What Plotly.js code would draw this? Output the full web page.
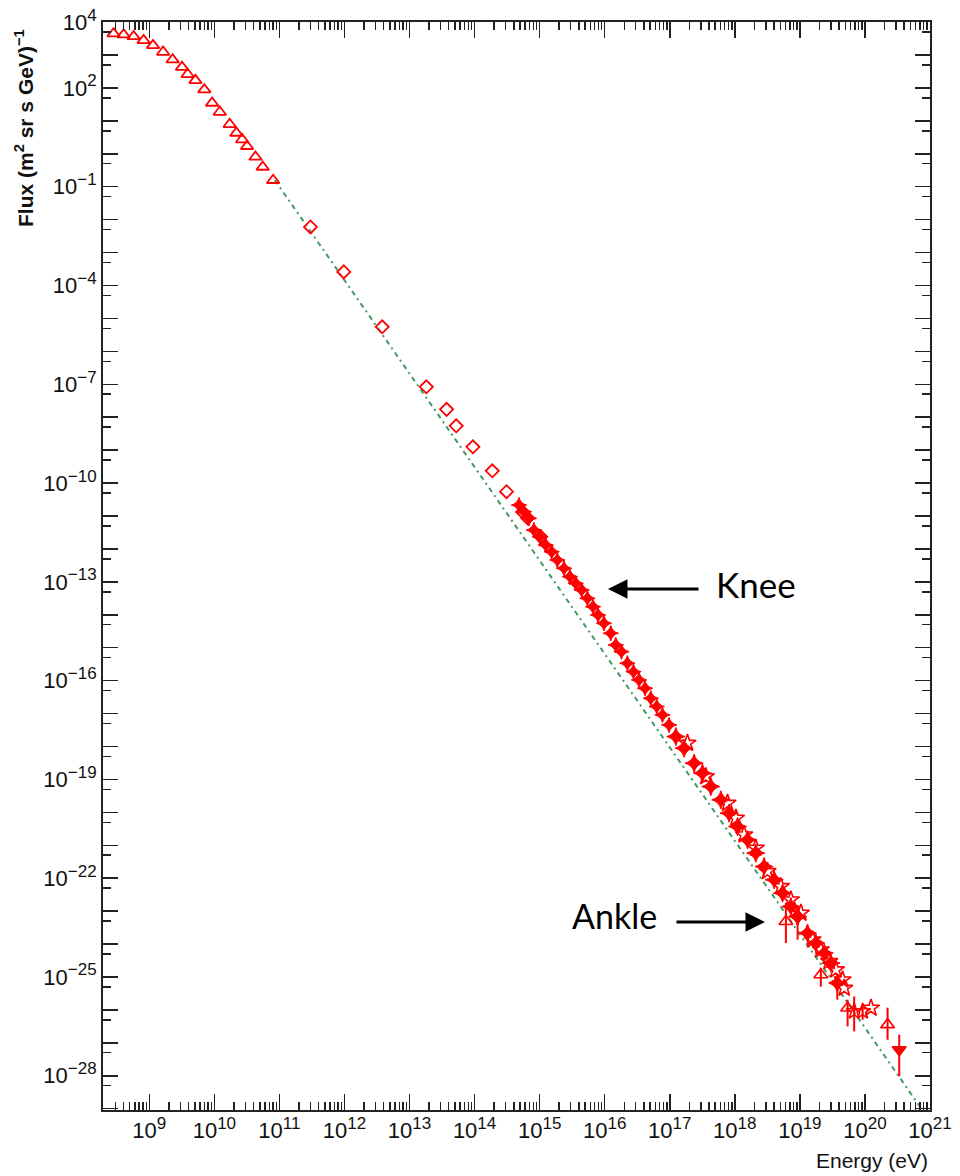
<!DOCTYPE html>
<html>
<head>
<meta charset="utf-8">
<script src="https://cdn.plot.ly/plotly-3.0.1.min.js"></script>
<style>html,body{margin:0;padding:0;background:#fff;}#chart{width:960px;height:1176px;}</style>
</head>
<body>
<div id="chart"></div>
<script>
// ---- Data ----
// Low-energy direct measurements (open triangles)
const triE = [2.82e8, 4.03e8, 5.73e8, 8.17e8, 1.14e9, 1.63e9, 2.28e9, 3.18e9, 3.88e9, 5.11e9,
              7.01e9, 9.23e9, 1.21e10, 1.72e10, 2.18e10, 2.67e10, 3.18e10, 4.28e10, 5.53e10, 8.00e10];
const triF = [4.45e3, 4.15e3, 3.68e3, 2.78e3, 1.96e3, 1.23e3, 7.23e2, 4.28e2, 2.59e2, 1.70e2,
              88.7, 34.8, 18.5, 7.85, 4.28, 2.70, 1.69, 0.80, 0.397, 0.157];
// Open diamonds
const diaE = [3.00e11, 9.75e11, 3.80e12, 1.81e13, 3.71e13, 5.22e13, 9.42e13, 1.87e14, 3.10e14, 5.47e14, 6.53e14, 1.04e15];
const diaF = [6.0e-3, 2.59e-4, 5.55e-6, 8.38e-8, 1.73e-8, 5.48e-9, 1.26e-9, 2.36e-10, 5.45e-11, 1.32e-11, 8.7e-12, 2.34e-12];
// Filled stars (air shower data)
const starE = [4.81e14, 5.73e14, 6.84e14, 8.17e14, 1.01e15, 1.24e15, 1.53e15, 1.87e15, 2.37e15, 2.92e15,
               3.58e15, 4.43e15, 5.42e15, 6.61e15, 7.89e15, 9.75e15, 1.24e16, 1.48e16, 1.81e16, 2.23e16,
               2.77e16, 3.37e16, 4.17e16, 5.11e16, 6.31e16, 7.73e16, 9.75e16, 1.24e17, 1.66e17, 2.37e17,
               3.18e17, 4.28e17, 6.10e17, 8.17e17, 1.10e18, 1.57e18, 2.10e18, 2.82e18, 4.03e18, 5.42e18,
               7.28e18, 9.23e18, 1.31e19, 1.76e19, 2.37e19, 3.00e19];
const starF = [2.15e-11, 1.35e-11, 8.49e-12, 3.74e-12, 2.34e-12, 1.31e-12, 8.22e-13, 4.60e-13, 2.58e-13, 1.43e-13,
               9.03e-14, 5.66e-14, 3.17e-14, 1.76e-14, 9.86e-15, 5.52e-15, 2.75e-15, 1.21e-15, 7.59e-16, 3.37e-16,
               1.87e-16, 1.05e-16, 5.87e-17, 2.92e-17, 1.63e-17, 9.10e-18, 4.52e-18, 2.00e-18, 8.87e-19, 3.11e-19,
               1.55e-19, 6.07e-20, 2.39e-20, 9.46e-21, 3.71e-21, 1.46e-21, 5.78e-22, 2.26e-22, 8.93e-23, 3.53e-23,
               1.38e-23, 6.87e-24, 2.16e-24, 1.07e-24, 5.33e-25, 2.65e-25];
// Open stars
const ostarE = [1.87e17, 3.58e17, 7.73e17, 1.04e18, 1.39e18, 2.10e18, 3.18e18, 5.11e18, 7.28e18, 1.04e19,
                1.57e19, 2.10e19, 2.82e19, 3.58e19, 4.54e19, 4.81e19, 1.24e20];
const ostarF = [1.26e-18, 1.22e-19, 1.90e-20, 6.67e-21, 2.07e-21, 8.20e-22, 1.60e-22, 5.60e-23, 2.21e-23, 8.73e-24,
                1.35e-24, 6.71e-25, 2.96e-25, 1.66e-25, 8.24e-26, 4.61e-26, 1.14e-26];
// Highest-energy points with error bars
const ankE   = [6.10e18, 9.23e18, 2.10e19, 3.76e19, 5.42e19, 6.84e19, 9.23e19, 2.23e20, 3.37e20];
const ankF   = [4.85e-24, 6.87e-24, 1.17e-25, 6.55e-26, 1.14e-26, 9.0e-27, 9.0e-27, 3.56e-27, 6.19e-28];
const ankHi  = [1.79e-23, 1.38e-23, 1.91e-25, 1.04e-25, 2.04e-26, 2.57e-26, 1.28e-26, 1.17e-26, 1.77e-27];
const ankLo  = [1.07e-24, 1.35e-24, 5.06e-26, 2.04e-26, 3.15e-27, 2.22e-27, 5.04e-27, 1.24e-27, 9.6e-29];
const ankSym = ['triangle-up-open', 'star-diamond', 'triangle-up-open', 'star-diamond', 'triangle-up-open',
                'star-open', 'star-open', 'triangle-up-open', 'triangle-down'];
// Dash-dot reference power law (end points)
const fitE = [8.5e10, 1e21];
const fitF = [1.58e-1, 4.2e-30];
// Axis ticks
const xTickExp = [9, 10, 11, 12, 13, 14, 15, 16, 17, 18, 19, 20, 21];
const yLabelExp = [4, 2, -1, -4, -7, -10, -13, -16, -19, -22, -25, -28];

// ---- Build ----
const RED = '#ff0000';
const fmtExp = e => '10<sup><span style="font-size:17px">' + String(e).replace('-', '\u2212') + '</span></sup>';

const yPlainDec = [], yMinorVals = [];
for (let k = -29; k <= 4; k++) if (yLabelExp.indexOf(k) < 0) yPlainDec.push(Math.pow(10, k));
for (let k = -30; k <= 3; k++) yMinorVals.push(5 * Math.pow(10, k));

// denser band above 1e17 eV is drawn with slightly larger marks
const starSizes = starE.map(e => (e > 1e17 ? 13 : 11));

const traces = [
  { x: fitE, y: fitF, mode: 'lines', line: { color: '#3f9a5f', width: 2, dash: '5px,4px,2px,4px' }, hoverinfo: 'skip' },
  { x: triE, y: triF, mode: 'markers', marker: { symbol: 'triangle-up-open', size: 11, opacity: 1, color: RED, line: { width: 1.8, color: RED } } },
  { x: diaE, y: diaF, mode: 'markers', marker: { symbol: 'diamond-open', size: 10, opacity: 1, color: RED, line: { width: 1.8, color: RED } } },
  { x: starE, y: starF, mode: 'markers', marker: { symbol: 'star-diamond', size: starSizes, opacity: 1, color: RED, line: { width: 1, color: RED } } },
  { x: ostarE, y: ostarF, mode: 'markers', marker: { symbol: 'star-open', size: 13, opacity: 1, color: RED, line: { width: 1.6, color: RED } } },
  { x: ankE, y: ankF, mode: 'markers',
    marker: { symbol: ankSym, size: 12, opacity: 1, color: RED, line: { width: 1.6, color: RED } },
    error_y: { type: 'data', symmetric: false,
               array: ankHi.map((v, i) => v - ankF[i]),
               arrayminus: ankLo.map((v, i) => ankF[i] - v),
               color: RED, thickness: 2, width: 0 } }
];

const TF = { family: 'Liberation Sans, Arial, sans-serif', size: 22, color: '#111' };
const axisCommon = {
  type: 'log', showgrid: false, zeroline: false, showline: true, linecolor: '#222', linewidth: 2,
  mirror: 'ticks', ticks: 'inside', tickcolor: '#222', tickwidth: 1.5, tickfont: TF
};
const YR = [-29.04, 4.002];

const L = 103, R = 930, T = 22, B = 1110;
const px = v => (v - L) / (R - L);
const py = v => (B - v) / (B - T);

const layout = {
  width: 960, height: 1176,
  margin: { l: L, r: 960 - R, t: T, b: 1176 - B },
  paper_bgcolor: '#fff', plot_bgcolor: '#fff', showlegend: false,
  xaxis: Object.assign({}, axisCommon, {
    range: [8.288, 21.0005], tickmode: 'array',
    tickvals: xTickExp.map(e => Math.pow(10, e)), ticktext: xTickExp.map(fmtExp),
    ticklen: 16,
    minor: { ticks: 'inside', ticklen: 8, dtick: 'D1', tickcolor: '#222', tickwidth: 1.5 }
  }),
  yaxis: Object.assign({}, axisCommon, {
    range: YR, tickmode: 'array',
    tickvals: yLabelExp.map(e => Math.pow(10, e)), ticktext: yLabelExp.map(fmtExp),
    ticklen: 15,
    minor: { ticks: 'inside', ticklen: 8, tickmode: 'array', tickvals: yMinorVals, tickcolor: '#222', tickwidth: 1.5 }
  }),
  yaxis2: Object.assign({}, axisCommon, {
    overlaying: 'y', side: 'left', range: YR, tickmode: 'array', tickvals: yPlainDec,
    showticklabels: false, ticklen: 15
  }),
  annotations: [
    { text: 'Flux (m<sup>2</sup> sr s GeV)<sup>\u22121</sup>', textangle: -90, showarrow: false,
      xref: 'paper', yref: 'paper', x: px(24), y: py(128), xanchor: 'center', yanchor: 'middle',
      font: { family: 'Liberation Sans, Arial, sans-serif', size: 21, color: '#111', weight: 'bold' } },
    { text: 'Energy (eV)', showarrow: false, xref: 'paper', yref: 'paper',
      x: px(930), y: py(1160), xanchor: 'right', yanchor: 'middle',
      font: { family: 'Liberation Sans, Arial, sans-serif', size: 21, color: '#111' } },
    { text: 'Knee', showarrow: false, xref: 'paper', yref: 'paper',
      x: px(714), y: py(584), xanchor: 'left', yanchor: 'middle',
      font: { family: 'Lato, Open Sans, sans-serif', size: 35, color: '#000' } },
    { text: '', showarrow: true, xref: 'paper', yref: 'paper', x: px(608), y: py(589),
      ax: 92, ay: 0, arrowhead: 2, arrowsize: 1.3, arrowwidth: 3, arrowcolor: '#000', standoff: 0 },
    { text: 'Ankle', showarrow: false, xref: 'paper', yref: 'paper',
      x: px(570), y: py(915), xanchor: 'left', yanchor: 'middle',
      font: { family: 'Lato, Open Sans, sans-serif', size: 34, color: '#000' } },
    { text: '', showarrow: true, xref: 'paper', yref: 'paper', x: px(765), y: py(922),
      ax: -90, ay: 0, arrowhead: 2, arrowsize: 1.3, arrowwidth: 3, arrowcolor: '#000', standoff: 0 }
  ]
};

// an invisible trace on yaxis2 so that the extra tick axis is drawn
traces.push({ x: [1e9], y: [1], yaxis: 'y2', mode: 'markers', marker: { opacity: 0 }, hoverinfo: 'skip' });

Plotly.newPlot('chart', traces, layout, { staticPlot: true, displayModeBar: false });
</script>
</body>
</html>
